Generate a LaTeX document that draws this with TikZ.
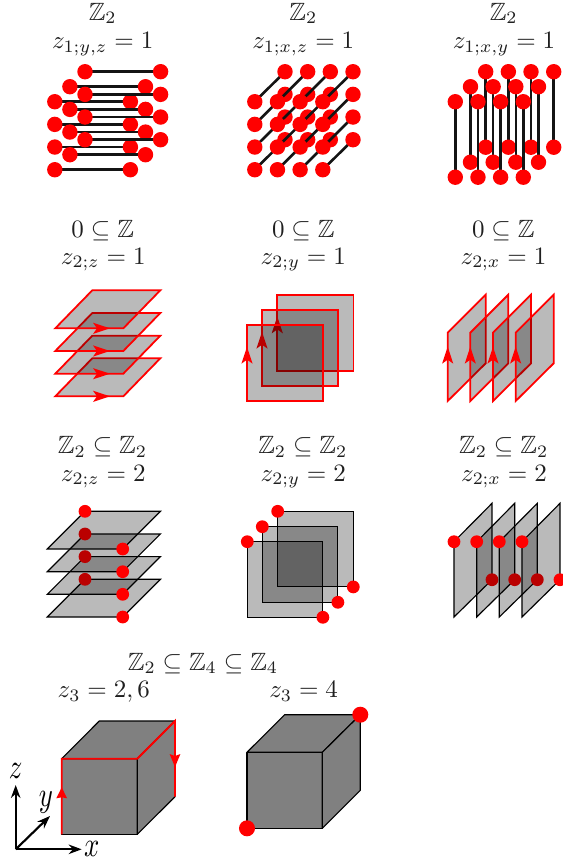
\documentclass[tikz,border=0pt]{standalone}
\usepackage{amssymb}
\usetikzlibrary{arrows.meta}
\tikzset{
  linkline/.style={line width=1.05pt,black!92},
  planefill/.style={fill=black,fill opacity=.27},
  redplane/.style={planefill,draw=red,line width=.72pt,line join=miter},
  blackplane/.style={planefill,draw=black,line width=.47pt},
  cubeface/.style={fill=black!50,draw=black,line width=.47pt,line join=round},
  redpath/.style={draw=red,line width=.75pt},
  axisline/.style={black,line width=.85pt,-{Stealth[length=5.2pt,width=3.8pt]}},
  lab/.style={anchor=base,inner sep=0pt,outer sep=0pt,text=black!88}
}
\newcommand{\redtip}[3]{\fill[red,shift={(#1,#2)},rotate=#3] (0,0) -- (-17,5.6) -- (-13,0) -- (-17,-5.6) -- cycle;}
\newcommand{\dotat}[3]{\fill[red] (#1,#2) circle[radius=#3];}
\begin{document}
\begin{tikzpicture}[x=0.4pt,y=-0.4pt]
\useasboundingbox (0,0) rectangle (562,863);
% ---- labels
\foreach \n/\x/\y/\lbl in {
 a1/102.7/20/{\mathbb{Z}_2}, a2/303.3/20/{\mathbb{Z}_2}, a3/503.7/20/{\mathbb{Z}_2},
 b1/102.7/48.3/{z_{1;y,z}=1}, b2/303.3/48.3/{z_{1;x,z}=1}, b3/504/48.3/{z_{1;x,y}=1},
 c1/102.7/237.3/{0\subseteq\mathbb{Z}}, c2/303.3/237.3/{0\subseteq\mathbb{Z}}, c3/503.3/237.3/{0\subseteq\mathbb{Z}},
 d1/103.3/264/{z_{2;z}=1}, d2/303.3/264/{z_{2;y}=1}, d3/503.5/264/{z_{2;x}=1},
 e1/102.5/453.3/{\mathbb{Z}_2\subseteq\mathbb{Z}_2}, e2/302.8/453.3/{\mathbb{Z}_2\subseteq\mathbb{Z}_2}, e3/503.7/453.3/{\mathbb{Z}_2\subseteq\mathbb{Z}_2},
 f1/103.3/481/{z_{2;z}=2}, f2/303.3/481/{z_{2;y}=2}, f3/504/481/{z_{2;x}=2},
 g1/203/670/{\mathbb{Z}_2\subseteq\mathbb{Z}_4\subseteq\mathbb{Z}_4},
 h1/103.8/697.3/{z_3=2,6}, h2/303.7/697.3/{z_3=4}}
 {\node[lab] (\n) at (\x,\y) {$\lbl$};}
% ---- row 1: y,z links (along x)
\foreach \z in {0,1,2,3}{
 \foreach \d in {0,1,2}{
  \pgfmathsetmacro{\xa}{85-15.1*\d}
  \pgfmathsetmacro{\ya}{71.7+22.67*\z+15*\d}
  \draw[linkline] (\xa,\ya) -- ++(75.6,0);
  \dotat{\xa}{\ya}{7.7}
  \pgfmathsetmacro{\xb}{\xa+75.6}
  \dotat{\xb}{\ya}{7.7}
 }}
% ---- row 1: x,z links (diagonal), lowest level first
\foreach \z in {3,2,1,0}{
 \foreach \c in {0,1,2,3}{
  \pgfmathsetmacro{\xa}{285+22.67*\c}
  \pgfmathsetmacro{\ya}{71.7+22.67*\z}
  \draw[linkline] (\xa,\ya) -- ++(-30.2,30);
  \dotat{\xa}{\ya}{7.7}
  \pgfmathsetmacro{\xb}{\xa-30.2}
  \pgfmathsetmacro{\yb}{\ya+30}
  \dotat{\xb}{\yb}{7.7}
 }}
% ---- row 1: x,y links (vertical)
\foreach \d in {0,1,2}{
 \foreach \c in {0,1,2,3}{
  \pgfmathsetmacro{\xa}{485.7+22.67*\c-15.2*\d}
  \pgfmathsetmacro{\ya}{71.7+15*\d}
  \draw[linkline] (\xa,\ya) -- ++(0,75.5);
  \dotat{\xa}{\ya}{7.7}
  \pgfmathsetmacro{\yb}{\ya+75.5}
  \dotat{\xa}{\yb}{7.7}
 }}
% ---- row 2: z planes
\foreach \yy in {396.3,373.7,351,328.3}{
  \draw[redplane] (55.3,\yy) -- ++(37,-38) -- ++(68,0) -- ++(-37,38) -- cycle;
  \redtip{110}{\yy}{0}
}
% ---- row 2: y planes
\foreach \xx/\yy in {277.3/294.7,262/310,247/325}{
  \draw[redplane] (\xx,\yy) -- ++(76.3,0) -- ++(0,76.3) -- ++(-76.3,0) -- cycle;
  \pgfmathsetmacro{\tipy}{\yy+21.7}
  \redtip{\xx}{\tipy}{90}
}
% ---- row 2: x planes
\foreach \xx in {447.7,470.3,493,515.7}{
  \draw[redplane] (\xx,401) -- (\xx,332.7) -- ++(38,-38) -- ++(0,68.6) -- cycle;
  \redtip{\xx}{346.7}{90}
}
% ---- row 3: z planes
\foreach \yy in {617,594.3,571.7,549}{
  \draw[blackplane] (47.3,\yy) -- ++(37.7,-37.7) -- ++(75.4,0) -- ++(-37.7,37.7) -- cycle;
  \pgfmathsetmacro{\b}{\yy-37.7}
  \dotat{85}{\b}{6.4}
  \dotat{122.7}{\yy}{6.4}
}
% ---- row 3: y planes
\foreach \xx/\yy in {277.7/511.3,262.3/526.7,247.3/541.7}{
  \draw[blackplane] (\xx,\yy) -- ++(75.6,0) -- ++(0,75.6) -- ++(-75.6,0) -- cycle;
  \dotat{\xx}{\yy}{6.4}
  \pgfmathsetmacro{\xb}{\xx+75.6}
  \pgfmathsetmacro{\yb}{\yy+75.6}
  \dotat{\xb}{\yb}{6.4}
}
% ---- row 3: x planes
\foreach \xx in {454,476.7,499.3,522}{
  \draw[blackplane] (\xx,617) -- (\xx,541.7) -- ++(38,-38.4) -- ++(0,76.4) -- cycle;
  \dotat{\xx}{541.7}{6.4}
  \pgfmathsetmacro{\xb}{\xx+38}
  \dotat{\xb}{579.7}{6.4}
}
% ---- row 4: cube 1
\draw[cubeface] (61.7,758.7) rectangle (137.3,834.3);
\draw[cubeface] (61.7,758.7) -- (99.3,721) -- (175,721) -- (137.3,758.7) -- cycle;
\draw[cubeface] (137.3,758.7) -- (175,721) -- (175,796.7) -- (137.3,834.3) -- cycle;
\draw[redpath] (61.7,834.3) -- (61.7,758.7) -- (137.3,758.7) -- (175,721) -- (175,796.7);
\fill[red,shift={(61.7,787.3)},rotate=90] (0,0) -- (-11,5.4) -- (-10,0) -- (-11,-5.4) -- cycle;
\fill[red,shift={(175,767)},rotate=-90] (0,0) -- (-13,5.4) -- (-11,0) -- (-13,-5.4) -- cycle;
% ---- row 4: cube 2
\draw[cubeface] (247,752.3) rectangle (322.3,828.3);
\draw[cubeface] (247,752.3) -- (284.7,714.7) -- (360.3,714.7) -- (322.3,752.3) -- cycle;
\draw[cubeface] (322.3,752.3) -- (360.3,714.7) -- (360.3,790.3) -- (322.3,828.3) -- cycle;
\dotat{247}{828.3}{8}
\dotat{360.3}{714.7}{8}
% ---- axes
\coordinate (o) at (15.7,849.3);
\node[inner sep=0pt] (zl) at (15.7,771) {\scalebox{1.07}[1.4]{$z$}};
\node[inner sep=0pt] (yl) at (46,802) {\scalebox{1.07}[1.4]{$y$}};
\node[inner sep=0pt] (xl) at (91.7,849) {\scalebox{1.07}[1.4]{$x$}};
\draw[axisline] (o) -- (15.7,785);
\draw[axisline] (o) -- (81.7,849.3);
\draw[axisline] (o) -- (50,816);
\end{tikzpicture}
\end{document}
